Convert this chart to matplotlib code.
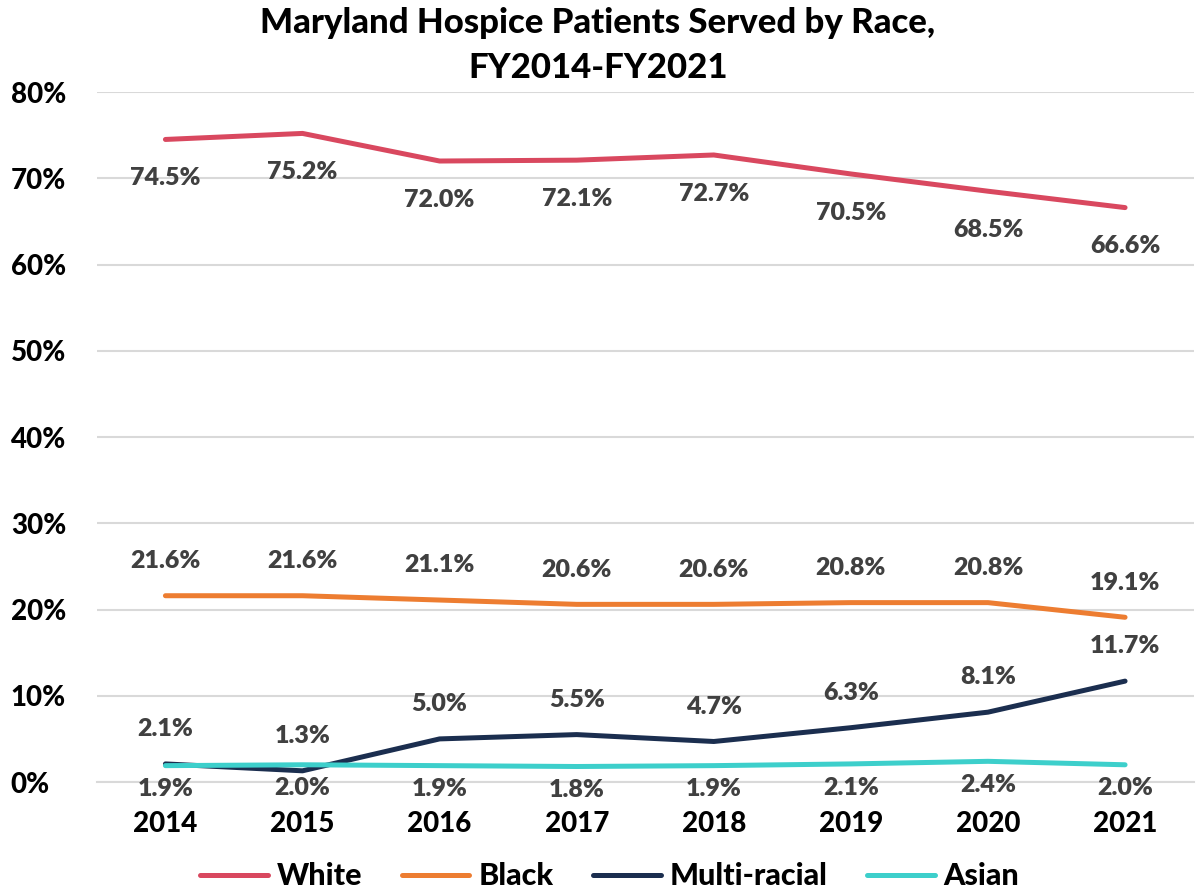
import matplotlib
matplotlib.use("Agg")
import matplotlib.pyplot as plt
from matplotlib.ticker import FuncFormatter

plt.rcParams['font.family'] = ['Lato', 'DejaVu Sans']

# veriler
years = ['2014', '2015', '2016', '2017', '2018', '2019', '2020', '2021']
white = [74.5, 75.2, 72.0, 72.1, 72.7, 70.5, 68.5, 66.6]
black = [21.6, 21.6, 21.1, 20.6, 20.6, 20.8, 20.8, 19.1]
multi = [2.1, 1.3, 5.0, 5.5, 4.7, 6.3, 8.1, 11.7]
asian = [1.9, 2.0, 1.9, 1.8, 1.9, 2.1, 2.4, 2.0]

series = [
    ('White', white, '#D9485F', -28),
    ('Black', black, '#ED7D31', 25),
    ('Multi-racial', multi, '#1B2E4F', 25),
    ('Asian', asian, '#3DCFCB', -17),
]

fig = plt.figure(figsize=(11.96, 8.96), dpi=100)
ax = fig.add_axes([0.081, 0.1272, 0.917, 0.7701])

x = list(range(len(years)))
for name, vals, color, off in series:
    ax.plot(x, vals, color=color, lw=3.6, label=name, solid_capstyle='round')
    for xi, v in zip(x, vals):
        ax.annotate(f'{v:.1f}%', (xi, v), xytext=(0, off), textcoords='offset points',
                    ha='center', va='center', fontsize=18, fontweight='heavy',
                    color='#404040')

ax.set_xlim(-0.5, len(years) - 0.5)
ax.set_ylim(0, 80)
ax.set_yticks(range(0, 81, 10))
ax.yaxis.set_major_formatter(FuncFormatter(lambda v, p: f'{v:.0f}%'))
ax.set_xticks(x)
ax.set_xticklabels(years)
ax.tick_params(length=0, labelsize=20)
for lab in ax.get_xticklabels() + ax.get_yticklabels():
    lab.set_fontweight('black')
ax.tick_params(axis='x', pad=21)
ax.tick_params(axis='y', pad=62)
for lab in ax.get_yticklabels():
    lab.set_horizontalalignment('left')

ax.grid(axis='y', color='#D9D9D9', lw=1.5)
ax.set_axisbelow(True)
for s in ['top', 'right', 'left']:
    ax.spines[s].set_visible(False)
ax.spines['bottom'].set_color('#D9D9D9')
ax.spines['bottom'].set_linewidth(1.5)

fig.suptitle('Maryland Hospice Patients Served by Race,\nFY2014-FY2021', fontsize=25,
             fontweight='black', y=0.992, linespacing=1.5)

fig.legend(loc='center', bbox_to_anchor=(0.51, 0.022), ncol=4, frameon=False,
           prop={'size': 22, 'weight': 'black'}, handlelength=2.2, columnspacing=1.3,
           handletextpad=0.3)

fig.savefig('out.png', dpi=100)
